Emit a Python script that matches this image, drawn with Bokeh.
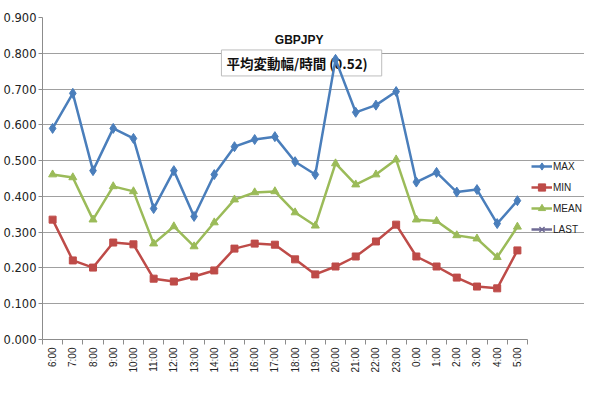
import math
from bokeh.plotting import figure
from bokeh.models import (Range1d, FixedTicker, NumeralTickFormatter,
                          LinearAxis, Label, ColumnDataSource, Legend, LegendItem)
from bokeh.embed import file_html
from bokeh.resources import INLINE

hours = ["6:00", "7:00", "8:00", "9:00", "10:00", "11:00", "12:00", "13:00",
         "14:00", "15:00", "16:00", "17:00", "18:00", "19:00", "20:00", "21:00",
         "22:00", "23:00", "0:00", "1:00", "2:00", "3:00", "4:00", "5:00"]
max_vals = [0.590, 0.688, 0.472, 0.590, 0.562, 0.366, 0.472, 0.344, 0.461, 0.539,
            0.559, 0.567, 0.497, 0.461, 0.783, 0.635, 0.655, 0.693, 0.440, 0.467,
            0.412, 0.419, 0.324, 0.388]
min_vals = [0.335, 0.221, 0.201, 0.271, 0.266, 0.170, 0.162, 0.176, 0.193, 0.254,
            0.268, 0.265, 0.224, 0.182, 0.204, 0.232, 0.274, 0.321, 0.232, 0.204,
            0.173, 0.148, 0.143, 0.249]
mean_vals = [0.461, 0.453, 0.335, 0.428, 0.414, 0.268, 0.316, 0.260, 0.327, 0.391,
             0.411, 0.414, 0.355, 0.318, 0.492, 0.433, 0.461, 0.503, 0.335, 0.331,
             0.291, 0.282, 0.230, 0.315]
# LAST appears only in the legend: no values are plotted
last_hours = list(hours)
last_vals = [float("nan")] * len(hours)
y_ticks = [0.0, 0.1, 0.2, 0.3, 0.4, 0.5, 0.6, 0.7, 0.8, 0.9]
title_text = "GBPJPY"
subtitle_text = "平均変動幅/時間 (0.52)"

FONT = "Liberation Sans"
AXIS_GRAY = "#8c8c8c"

W, H = 584, 379
LEFT, TOP, BOTTOM = 42, 17, 40
PLOT_W = 485                      # width of the category area in pixels
FRAME_W = W - LEFT                # frame also hosts the legend on the right

n = len(hours)
slot_center = [i + 0.5 for i in range(n)]        # category slot centres
slot_bounds = [i for i in range(n + 1)]           # category slot boundaries
pos_of = dict(zip(hours, slot_center))

p = figure(x_range=Range1d(0, n * FRAME_W / PLOT_W), y_range=Range1d(0, 0.9),
           width=W, height=H, output_backend="svg", toolbar_location=None,
           x_axis_location=None,
           min_border_left=LEFT, min_border_right=0, min_border_top=TOP,
           min_border_bottom=BOTTOM)
p.outline_line_color = None
p.background_fill_color = "white"
p.border_fill_color = "white"

# y axis
yax = p.yaxis[0]
yax.ticker = FixedTicker(ticks=y_ticks)
yax.formatter = NumeralTickFormatter(format="0.000")
yax.major_label_text_font = "DejaVu Sans"
yax.major_label_text_font_size = "11.5px"
yax.major_label_text_color = "#222222"
yax.major_label_standoff = 2
yax.major_tick_out = 4
yax.major_tick_in = 0
yax.minor_tick_line_color = None
yax.axis_line_color = AXIS_GRAY
yax.major_tick_line_color = AXIS_GRAY

p.ygrid.ticker = FixedTicker(ticks=y_ticks)
p.ygrid.grid_line_color = "#a0a0a0"
p.ygrid.bounds = (0, n)
p.xgrid.grid_line_color = None

# x axis: labels at slot centres, Excel style tick marks between categories
xax = LinearAxis(ticker=FixedTicker(ticks=slot_center, minor_ticks=slot_bounds),
                 bounds=(0, n),
                 major_label_overrides={c: h for c, h in zip(slot_center, hours)},
                 major_label_orientation=math.pi / 2,
                 major_label_text_font=FONT,
                 major_label_text_font_size="10px",
                 major_label_text_color="#222222",
                 major_label_standoff=3,
                 major_tick_out=5, major_tick_in=0,
                 major_tick_line_color=None,
                 minor_tick_out=5, minor_tick_in=0,
                 minor_tick_line_color=AXIS_GRAY,
                 axis_line_color=AXIS_GRAY)
p.add_layout(xax, "below")

# subtitle box (under the lines, over the grid)
sub = Label(x=12.82, y=0.773, text=subtitle_text, text_align="center",
            text_baseline="middle", text_font="Noto Sans CJK JP",
            text_font_style="bold", text_font_size="13.5px", text_color="#111111",
            background_fill_color="white", border_line_color="#bdbdbd",
            border_line_width=1, padding=dict(left=5, right=14, top=3, bottom=3),
            level="underlay")
p.add_layout(sub)

title = Label(x=12.7, y=0.838, text=title_text, text_align="center",
              text_baseline="middle", text_font=FONT, text_font_style="bold",
              text_font_size="12px", text_color="#111111")
p.add_layout(title)

series = [
    ("MAX", max_vals, "#4a7ebb", "diamond", 10),
    ("MIN", min_vals, "#be4b48", "square", 7),
    ("MEAN", mean_vals, "#9bbb59", "triangle", 8),
]
items = []
for name, vals, color, marker, size in series:
    src = ColumnDataSource(dict(x=[pos_of[h] for h in hours], y=vals))
    r1 = p.line("x", "y", source=src, line_color=color, line_width=2.5)
    r2 = p.scatter("x", "y", source=src, marker=marker, size=size, fill_color=color,
                   line_color=color)
    items.append(LegendItem(label=name, renderers=[r1, r2]))

last_src = ColumnDataSource(dict(x=[pos_of[h] for h in last_hours], y=last_vals))
r1 = p.line("x", "y", source=last_src, line_color="#6f6b95", line_width=2.5)
r2 = p.scatter("x", "y", source=last_src, marker="x", size=8, line_color="#6f6b95",
               line_width=1.5)
items.append(LegendItem(label="LAST", renderers=[r1, r2]))

lg = Legend(items=items, location=(489, 101), padding=0, margin=0,
            border_line_color=None, background_fill_alpha=0,
            label_text_font=FONT, label_text_font_size="10px",
            label_text_color="#222222", glyph_width=21, glyph_height=18,
            label_height=18, spacing=3, label_standoff=1)
p.add_layout(lg)

open("out.html", "w").write(file_html(p, INLINE))
